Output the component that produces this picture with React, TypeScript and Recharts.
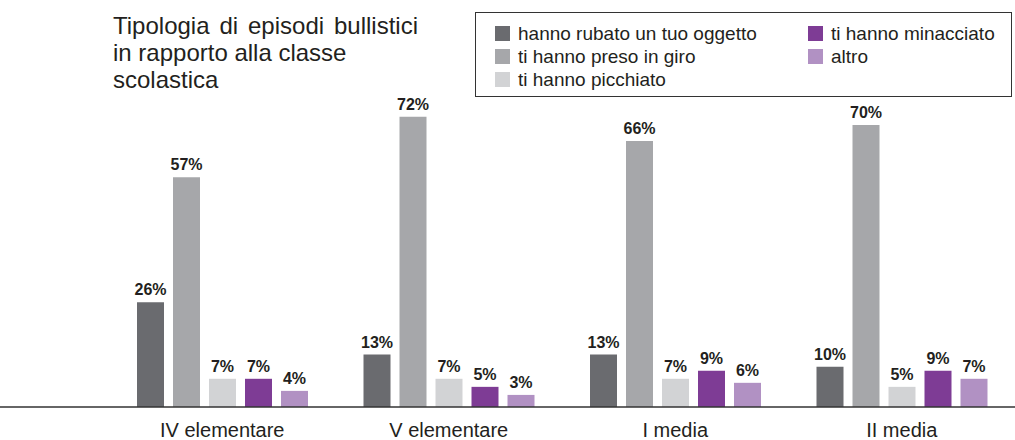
import React from "react";
import { BarChart, Bar, XAxis, YAxis, LabelList } from "recharts";

const classes = ["IV elementare", "V elementare", "I media", "II media"];
const rubato = [26, 13, 13, 10];
const presoInGiro = [57, 72, 66, 70];
const picchiato = [7, 7, 7, 5];
const minacciato = [7, 5, 9, 9];
const altro = [4, 3, 6, 7];

const seriesNames = [
  "hanno rubato un tuo oggetto",
  "ti hanno preso in giro",
  "ti hanno picchiato",
  "ti hanno minacciato",
  "altro",
];
const colors = ["#6a6b6f", "#a6a7aa", "#d2d3d5", "#7e3c95", "#b191c3"];
const keys = ["rubato", "preso", "picchiato", "minacciato", "altro"];

const data = classes.map((c, i) => ({
  classe: c,
  rubato: rubato[i],
  preso: presoInGiro[i],
  picchiato: picchiato[i],
  minacciato: minacciato[i],
  altro: altro[i],
}));

const FONT = '"Liberation Sans", Arial, Helvetica, sans-serif';

function LegendBox() {
  // two columns: first three series on the left, last two on the right
  const item = (i: number, left: number, top: number) => (
    <div key={i} style={{ position: "absolute", left, top, display: "flex", alignItems: "center" }}>
      <span style={{ width: 15, height: 15, background: colors[i], display: "inline-block", marginRight: 8 }} />
      <span style={{ fontSize: 19, color: "#231f20", lineHeight: "19px" }}>{seriesNames[i]}</span>
    </div>
  );
  return (
    <div
      style={{
        position: "absolute",
        left: 475,
        top: 12,
        width: 537,
        height: 85,
        border: "1px solid #333",
        boxSizing: "border-box",
      }}
    >
      {item(0, 19, 11)}
      {item(1, 19, 34)}
      {item(2, 19, 57)}
      {item(3, 332, 11)}
      {item(4, 332, 34)}
    </div>
  );
}

export default function App() {
  return (
    <div style={{ position: "absolute", left: 0, top: 0, width: 1015, height: 440, background: "#fff", fontFamily: FONT }}>
      <BarChart
        width={1015}
        height={440}
        data={data}
        margin={{ top: 4, right: 0, bottom: 0, left: 0 }}
        barSize={27}
        barGap={9}
      >
        <XAxis
          dataKey="classe"
          height={33}
          padding={{ left: 109, right: 0 }}
          tickLine={false}
          axisLine={{ stroke: "#333", strokeWidth: 1.5 }}
          tick={{ fontSize: 20, fill: "#231f20", fontFamily: FONT }}
          tickMargin={10}
          interval={0}
        />
        <YAxis hide domain={[0, 100]} />
        {keys.map((k, i) => (
          <Bar key={k} dataKey={k} fill={colors[i]} isAnimationActive={false}>
            <LabelList
              dataKey={k}
              position="top"
              offset={7}
              formatter={(v: unknown) => `${v}%`}
              style={{ fontSize: 16, fontWeight: "bold", fill: "#231f20", fontFamily: FONT }}
            />
          </Bar>
        ))}
      </BarChart>
      <div
        style={{
          position: "absolute",
          left: 113,
          top: 12,
          width: 305,
          fontSize: 24,
          lineHeight: "27px",
          color: "#231f20",
          textAlign: "left",
        }}
      >
        <div style={{ textAlign: "justify", textAlignLast: "justify" }}>Tipologia di episodi bullistici</div>
        <div>in rapporto alla classe</div>
        <div>scolastica</div>
      </div>
      <LegendBox />
    </div>
  );
}
